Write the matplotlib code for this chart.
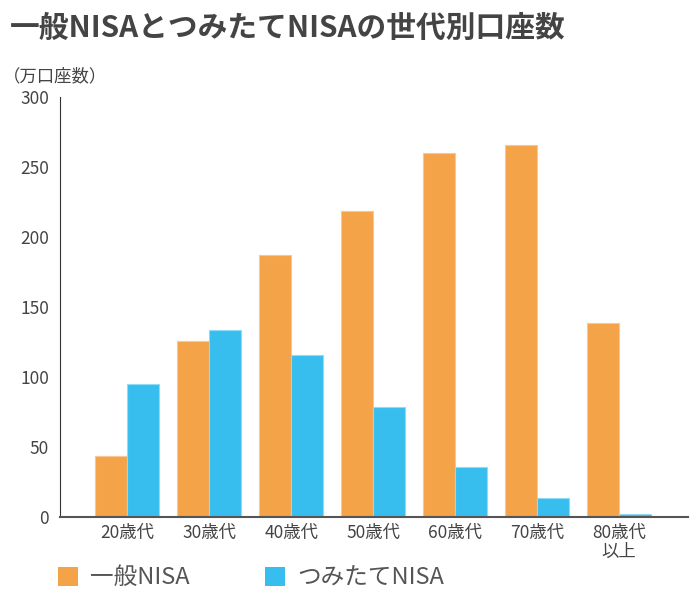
import matplotlib
matplotlib.use("Agg")
import matplotlib.pyplot as plt
from matplotlib.patches import Patch
import numpy as np

plt.rcParams['font.family'] = ['Noto Sans CJK JP', 'DejaVu Sans']

title = "一般NISAとつみたてNISAの世代別口座数"
unit_label = "（万口座数）"
categories = ["20歳代", "30歳代", "40歳代", "50歳代", "60歳代", "70歳代", "80歳代\n以上"]
series_names = ["一般NISA", "つみたてNISA"]
ippan = [44, 126, 187, 219, 260, 266, 139]
tsumitate = [95, 134, 116, 79, 36, 14, 2.5]
yticks = [0, 50, 100, 150, 200, 250, 300]

c_orange = "#F4A348"
c_blue = "#37BEEF"

fig = plt.figure(figsize=(7, 6), dpi=100)
ax = fig.add_axes([0.0857, 0.138, 0.897, 0.70])

x = np.arange(len(categories))
w = 0.39
ax.bar(x - w/2, ippan, width=w, color=c_orange, edgecolor="#F8C795", linewidth=0.8)
ax.bar(x + w/2, tsumitate, width=w, color=c_blue, edgecolor="#8FDCF7", linewidth=0.8)

ax.set_xlim(-0.82, 6.84)
ax.set_ylim(0, 300)
ax.set_yticks(yticks)
ax.set_yticklabels([str(v) for v in yticks])
ax.set_xticks(x)
ax.set_xticklabels(categories, linespacing=1.05)
ax.tick_params(axis='y', length=0, pad=8, labelsize=12.5, labelcolor="#444444")
ax.tick_params(axis='x', length=0, pad=5, labelsize=12.5, labelcolor="#444444")
for s in ["top", "right"]:
    ax.spines[s].set_visible(False)
ax.spines["left"].set_color("#333333")
ax.spines["left"].set_linewidth(0.8)
ax.spines["bottom"].set_color("#555555")
ax.spines["bottom"].set_linewidth(1.5)

fig.text(0.014, 0.953, title, fontsize=21.4, fontweight="bold", color="#444444",
         va="center", ha="left")
fig.text(0.004, 0.873, unit_label, fontsize=12.5, color="#444444", va="center", ha="left")

handles = [Patch(facecolor=c_orange, edgecolor="none"), Patch(facecolor=c_blue, edgecolor="none")]
leg = fig.legend(handles, series_names, loc="center left", bbox_to_anchor=(0.083, 0.037),
                 ncol=2, frameon=False, fontsize=17, handlelength=0.85, handleheight=0.85,
                 columnspacing=3.2, handletextpad=0.5, borderpad=0, borderaxespad=0,
                 labelcolor="#555555")

fig.savefig("out.png", dpi=100)
